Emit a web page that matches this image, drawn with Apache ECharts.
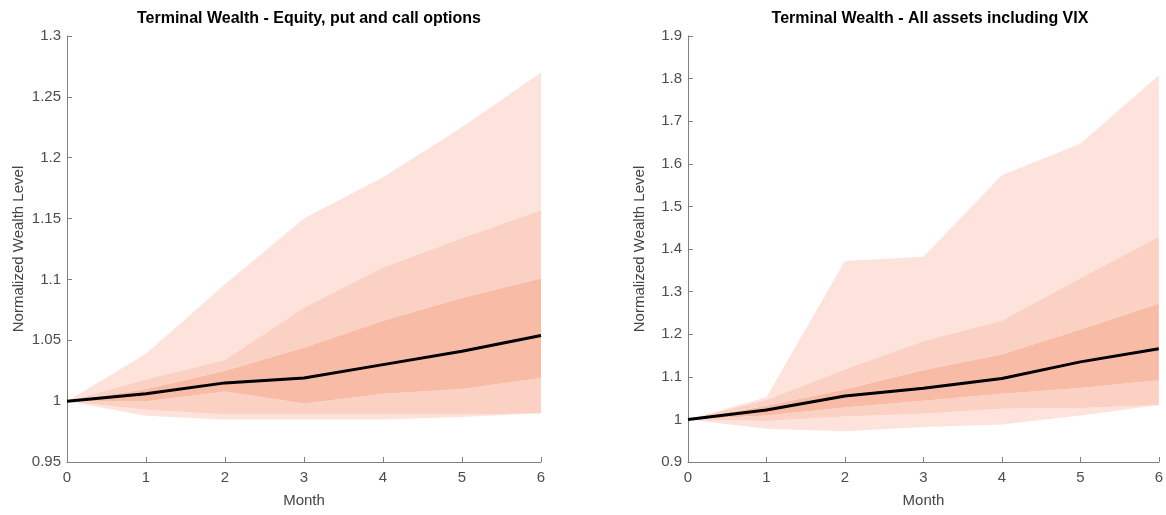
<!DOCTYPE html>
<html>
<head>
<meta charset="utf-8">
<script src="https://cdn.jsdelivr.net/npm/echarts@6/dist/echarts.min.js"></script>
<style>
html,body{margin:0;padding:0;background:#fff;}
#chart{width:1166px;height:515px;}
</style>
</head>
<body>
<div id="chart"></div>
<script>
// Months
const months = ['0', '1', '2', '3', '4', '5', '6'];

// Left panel: Equity, put and call options
const L_median    = [1.000, 1.006, 1.015, 1.019, 1.030, 1.041, 1.054];
const L_outerLo   = [1.000, 0.988, 0.985, 0.985, 0.985, 0.987, 0.989];
const L_midLo     = [1.000, 0.993, 0.989, 0.989, 0.989, 0.989, 0.990];
const L_innerLo   = [1.000, 1.000, 1.008, 0.998, 1.006, 1.010, 1.019];
const L_innerHi   = [1.000, 1.010, 1.025, 1.044, 1.066, 1.085, 1.101];
const L_midHi     = [1.000, 1.018, 1.034, 1.077, 1.110, 1.134, 1.157];
const L_outerHi   = [1.000, 1.039, 1.096, 1.150, 1.184, 1.225, 1.270];

// Right panel: All assets including VIX
const R_median    = [1.000, 1.022, 1.055, 1.073, 1.096, 1.135, 1.166];
const R_outerLo   = [1.000, 0.978, 0.972, 0.982, 0.988, 1.009, 1.030];
const R_midLo     = [1.000, 0.996, 1.007, 1.013, 1.025, 1.027, 1.034];
const R_innerLo   = [1.000, 1.009, 1.028, 1.044, 1.060, 1.074, 1.092];
const R_innerHi   = [1.000, 1.032, 1.071, 1.116, 1.153, 1.211, 1.272];
const R_midHi     = [1.000, 1.046, 1.118, 1.184, 1.232, 1.332, 1.429];
const R_outerHi   = [1.000, 1.052, 1.372, 1.382, 1.573, 1.647, 1.808];

// Tick settings
const L_yTicks = {min: 0.95, max: 1.3, interval: 0.05};
const R_yTicks = {min: 0.9, max: 1.9, interval: 0.1};

const C_OUTER = '#fde3db';
const C_MID   = '#fbd1c3';
const C_INNER = '#f8bba6';

function diff(a,b){ return a.map((v,i)=>+(v-b[i]).toFixed(6)); }

function bandSeries(idx, oLo, mLo, iLo, iHi, mHi, oHi, med){
  const stack = 'band' + idx;
  const base = {type:'line', xAxisIndex:idx, yAxisIndex:idx, stack:stack, symbol:'none',
    lineStyle:{width:0, opacity:0}, silent:true, z:1};
  return [
    Object.assign({}, base, {data: oLo.slice()}),
    Object.assign({}, base, {data: diff(mLo,oLo), areaStyle:{color:C_OUTER, opacity:1}}),
    Object.assign({}, base, {data: diff(iLo,mLo), areaStyle:{color:C_MID, opacity:1}}),
    Object.assign({}, base, {data: diff(iHi,iLo), areaStyle:{color:C_INNER, opacity:1}}),
    Object.assign({}, base, {data: diff(mHi,iHi), areaStyle:{color:C_MID, opacity:1}}),
    Object.assign({}, base, {data: diff(oHi,mHi), areaStyle:{color:C_OUTER, opacity:1}}),
    {type:'line', xAxisIndex:idx, yAxisIndex:idx, data: med.slice(), symbol:'none',
      lineStyle:{color:'#000', width:3}, z:5, silent:true}
  ];
}

const FONT = 'Liberation Sans, Arial, sans-serif';
const axisCol = '#808080';
const labelCol = '#4d4d4d';

function xAx(idx){
  return {type:'category', gridIndex:idx, data:months, boundaryGap:false,
    name:'Month', nameLocation:'middle', nameGap:31,
    nameTextStyle:{fontFamily:FONT, fontSize:15, color:'#444'},
    axisLine:{show:true, lineStyle:{color:axisCol, width:1}},
    axisTick:{show:true, inside:true, length:5, lineStyle:{color:axisCol}},
    axisLabel:{fontFamily:FONT, fontSize:15, color:labelCol, margin:8},
    splitLine:{show:false}};
}
function yAx(idx, t){
  return {type:'value', gridIndex:idx, min:t.min, max:t.max, interval:t.interval,
    name:'Normalized Wealth Level', nameLocation:'middle', nameGap:41,
    nameTextStyle:{fontFamily:FONT, fontSize:15, color:'#444'},
    axisLine:{show:true, onZero:false, lineStyle:{color:axisCol, width:1}},
    axisTick:{show:true, inside:true, length:5, lineStyle:{color:axisCol}},
    axisLabel:{fontFamily:FONT, fontSize:15, color:labelCol, margin:6},
    splitLine:{show:false}};
}

const chart = echarts.init(document.getElementById('chart'), null, {renderer:'canvas'});
chart.setOption({
  animation:false,
  backgroundColor:'#fff',
  title:[
    {text:'Terminal Wealth - Equity, put and call options', left:304, top:6, textAlign:'center',
      textStyle:{fontFamily:FONT, fontSize:16, fontWeight:'bold', color:'#000'}},
    {text:'Terminal Wealth - All assets including VIX', left:925, top:6, textAlign:'center',
      textStyle:{fontFamily:FONT, fontSize:16, fontWeight:'bold', color:'#000'}}
  ],
  grid:[
    {left:67, right:625, top:36, bottom:53},
    {left:688, right:5, top:36, bottom:53}
  ],
  xAxis:[xAx(0), xAx(1)],
  yAxis:[yAx(0, L_yTicks), yAx(1, R_yTicks)],
  series: bandSeries(0, L_outerLo, L_midLo, L_innerLo, L_innerHi, L_midHi, L_outerHi, L_median)
    .concat(bandSeries(1, R_outerLo, R_midLo, R_innerLo, R_innerHi, R_midHi, R_outerHi, R_median))
});
</script>
</body>
</html>
